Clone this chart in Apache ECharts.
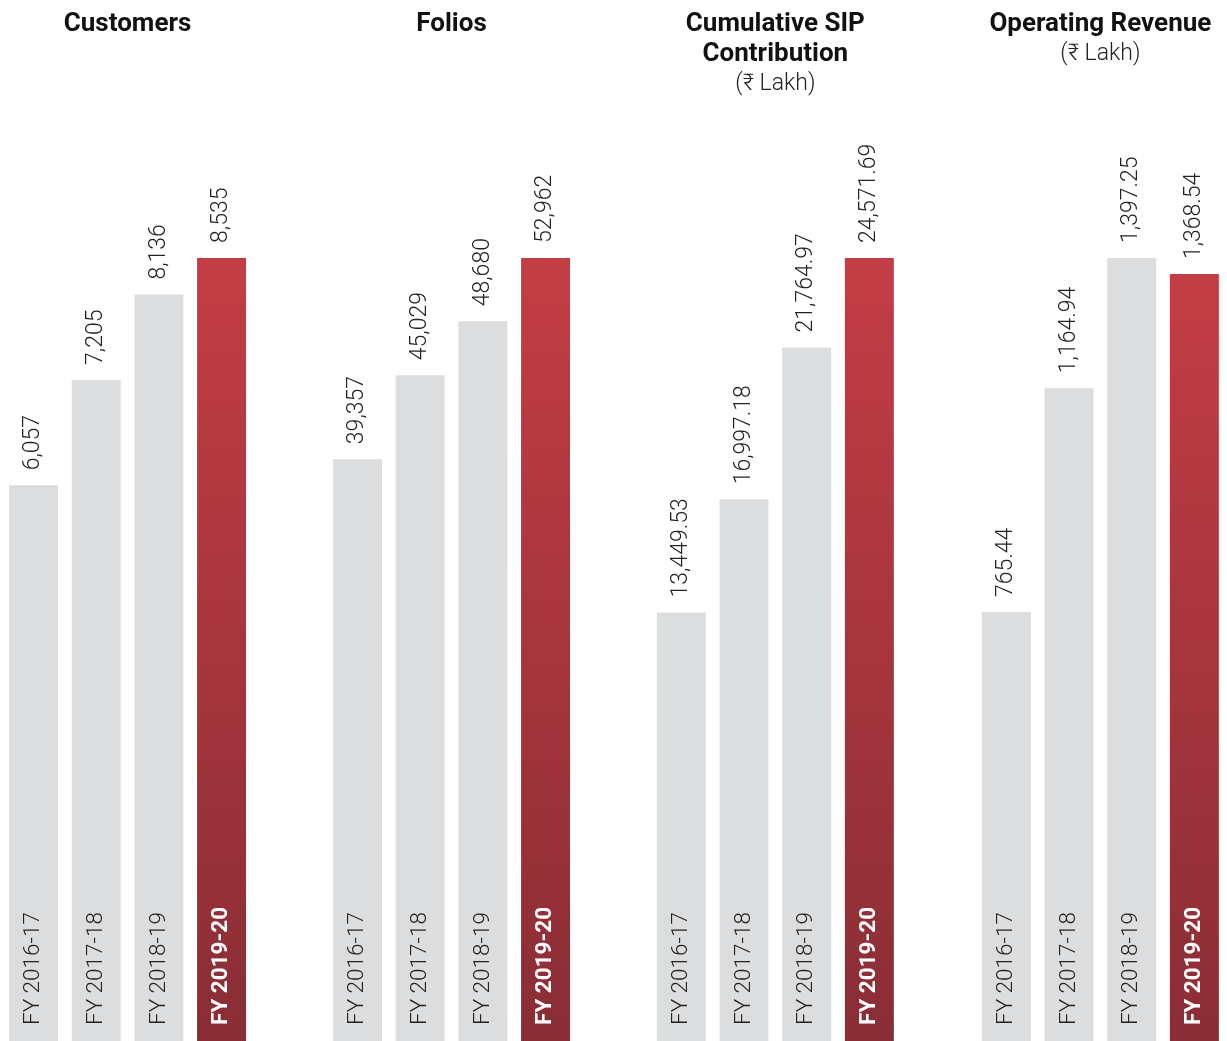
<!DOCTYPE html>
<html>
<head>
<meta charset="utf-8">
<script src="https://cdn.jsdelivr.net/npm/echarts@6/dist/echarts.min.js"></script>
<style>
html,body{margin:0;padding:0;background:#fff;}
#c{width:1227px;height:1041px;}
</style>
</head>
<body>
<div id="c"></div>
<script>
const categories = ['FY 2016-17', 'FY 2017-18', 'FY 2018-19', 'FY 2019-20'];
const panelTitles = ['Customers', 'Folios', 'Cumulative SIP\nContribution', 'Operating Revenue'];
const panelUnits = ['', '', '(₹ Lakh)', '(₹ Lakh)'];
const panelDecimals = [0, 0, 2, 2];
const customers = [6057, 7205, 8136, 8535];
const folios = [39357, 45029, 48680, 52962];
const sipContribution = [13449.53, 16997.18, 21764.97, 24571.69];
const operatingRevenue = [765.44, 1164.94, 1397.25, 1368.54];
const panels = [customers, folios, sipContribution, operatingRevenue];

const gridLefts = [2.2, 326.2, 650, 975];
const gridWidth = 250.7;
const FONT = 'Roboto, "Noto Sans", "DejaVu Sans", sans-serif';

const grids = [], xAxes = [], yAxes = [], series = [], titles = [];
const redGrad = new echarts.graphic.LinearGradient(0, 0, 0, 1, [
  {offset: 0, color: '#c43d44'},
  {offset: 1, color: '#8a2d35'}
]);

panels.forEach((vals, i) => {
  grids.push({left: gridLefts[i], width: gridWidth, top: 258, bottom: 0, outerBoundsMode: 'none', containLabel: false});
  xAxes.push({type: 'category', gridIndex: i, data: categories, axisLine: {show: false}, axisTick: {show: false}, axisLabel: {show: false}});
  yAxes.push({type: 'value', gridIndex: i, min: 0, max: Math.max(...vals), show: false, splitLine: {show: false}});
  const dec = panelDecimals[i];
  const fmt = v => v.toLocaleString('en-US', {minimumFractionDigits: dec, maximumFractionDigits: dec});
  series.push({
    type: 'bar', xAxisIndex: i, yAxisIndex: i, barWidth: 49, silent: true,
    data: vals.map((v, j) => ({value: v, itemStyle: {color: j === vals.length - 1 ? redGrad : '#dcdddf'}})),
    label: {show: true, position: 'top', rotate: 90, align: 'left', verticalAlign: 'middle', distance: 15,
      fontFamily: FONT, fontWeight: 300, fontSize: 23, color: '#222',
      formatter: p => fmt(p.value)}
  });
  series.push({
    type: 'bar', xAxisIndex: i, yAxisIndex: i, barWidth: 49, barGap: '-100%', silent: true,
    data: vals.map((v, j) => ({value: v, itemStyle: {color: 'rgba(0,0,0,0)'},
      label: j === vals.length - 1 ? {color: '#fff', fontWeight: 700} : {}})),
    label: {show: true, position: 'insideBottom', rotate: 90, align: 'left', verticalAlign: 'middle', distance: 16,
      fontFamily: FONT, fontWeight: 300, fontSize: 22.5, color: '#222',
      formatter: p => p.name}
  });
  const titleText = panelTitles[i].split('\n').map(t => '{b|' + t + '}').join('\n') + (panelUnits[i] ? '\n{s|' + panelUnits[i] + '}' : '');
  titles.push({
    text: titleText, left: gridLefts[i] + gridWidth / 2 - 5, top: 4, textAlign: 'center',
    textStyle: {rich: {
      b: {fontFamily: FONT, fontWeight: 700, fontSize: 26, color: '#111', lineHeight: 30, align: 'center'},
      s: {fontFamily: FONT, fontWeight: 300, fontSize: 23, color: '#222', lineHeight: 30, align: 'center'}
    }}
  });
});

const chart = echarts.init(document.getElementById('c'));
chart.setOption({animation: false, title: titles, grid: grids, xAxis: xAxes, yAxis: yAxes, series: series});
</script>
</body>
</html>
